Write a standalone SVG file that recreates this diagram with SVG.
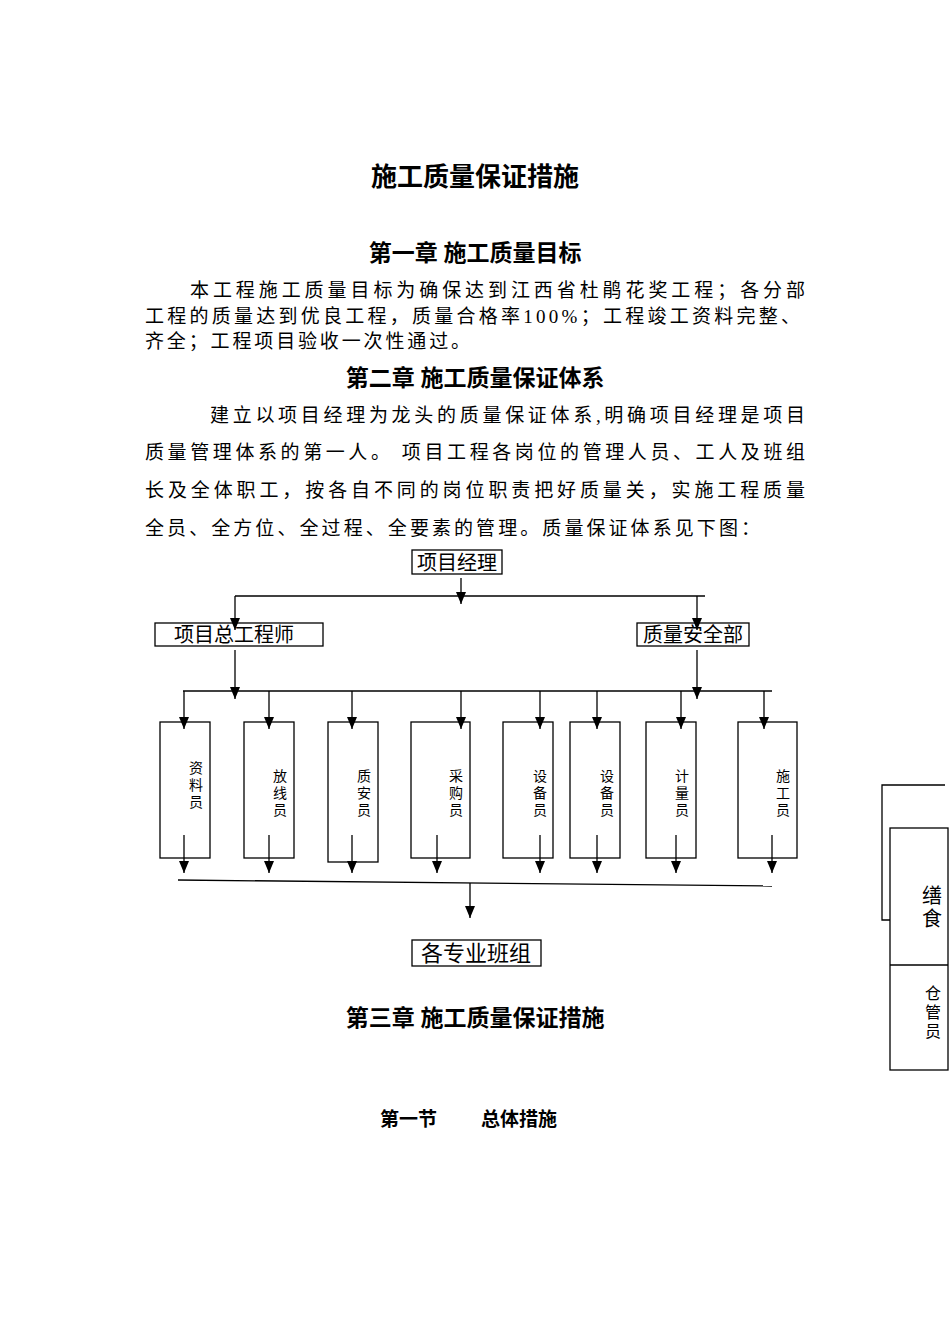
<svg xmlns="http://www.w3.org/2000/svg" width="950" height="1344" viewBox="0 0 950 1344">
<defs>
<marker id="a" markerWidth="12" markerHeight="10" refX="12" refY="5" orient="auto" markerUnits="userSpaceOnUse" viewBox="0 0 12 10"><path d="M0,0 L12,5 L0,10 z" fill="#000"/></marker>
</defs>
<style>
text{font-family:"Liberation Serif","Noto Sans CJK SC",serif;fill:#000}
.h{font-weight:bold;font-size:23px;text-anchor:middle}
.p{font-size:19px}
.b{fill:#fff;stroke:#000;stroke-width:1.3}
.l{stroke:#000;stroke-width:1.3;fill:none}
.v{font-size:14px;text-anchor:middle}
.n{font-size:20px;text-anchor:middle}
</style>
<rect width="950" height="1344" fill="#fff"/>
<text class="h" x="475" y="186" style="font-size:26px">施工质量保证措施</text>
<text class="h" x="475" y="261">第一章  施工质量目标</text>
<text class="p" x="190" y="297" textLength="615" lengthAdjust="spacing">本工程施工质量目标为确保达到江西省杜鹃花奖工程；各分部</text>
<text class="p" x="145" y="323" textLength="655" lengthAdjust="spacing">工程的质量达到优良工程，质量合格率100%；工程竣工资料完整、</text>
<text class="p" x="145" y="348" textLength="325" lengthAdjust="spacing">齐全；工程项目验收一次性通过。</text>
<text class="h" x="475" y="386">第二章 施工质量保证体系</text>
<text class="p" x="210" y="422" textLength="595" lengthAdjust="spacing">建立以项目经理为龙头的质量保证体系,明确项目经理是项目</text>
<text class="p" x="145" y="459" textLength="660" lengthAdjust="spacing">质量管理体系的第一人。 项目工程各岗位的管理人员、工人及班组</text>
<text class="p" x="145" y="497" textLength="660" lengthAdjust="spacing">长及全体职工，按各自不同的岗位职责把好质量关，实施工程质量</text>
<text class="p" x="145" y="535" textLength="615" lengthAdjust="spacing">全员、全方位、全过程、全要素的管理。质量保证体系见下图：</text>

<g id="n1"><rect class="b" x="412" y="550" width="90" height="24"/><text class="n" x="457" y="570">项目经理</text></g>
<g id="n2"><rect class="b" x="155" y="623" width="168" height="23"/><text class="n" x="234" y="642">项目总工程师</text></g>
<g id="n3"><rect class="b" x="637" y="623" width="112" height="23"/><text class="n" x="693" y="642">质量安全部</text></g>

<g id="r1"><rect class="b" x="160" y="722" width="50" height="136"/><text class="v" x="196" y="773">资</text><text class="v" x="196" y="790">料</text><text class="v" x="196" y="807">员</text></g>
<g id="r2"><rect class="b" x="244" y="722" width="50" height="136"/><text class="v" x="280" y="781">放</text><text class="v" x="280" y="798">线</text><text class="v" x="280" y="815">员</text></g>
<g id="r3"><rect class="b" x="328" y="722" width="50" height="140"/><text class="v" x="364" y="781">质</text><text class="v" x="364" y="798">安</text><text class="v" x="364" y="815">员</text></g>
<g id="r4"><rect class="b" x="411" y="722" width="59" height="136"/><text class="v" x="456" y="781">采</text><text class="v" x="456" y="798">购</text><text class="v" x="456" y="815">员</text></g>
<g id="r5"><rect class="b" x="503" y="722" width="50" height="136"/><text class="v" x="540" y="781">设</text><text class="v" x="540" y="798">备</text><text class="v" x="540" y="815">员</text></g>
<g id="r6"><rect class="b" x="570" y="722" width="50" height="136"/><text class="v" x="607" y="781">设</text><text class="v" x="607" y="798">备</text><text class="v" x="607" y="815">员</text></g>
<g id="r7"><rect class="b" x="646" y="722" width="50" height="136"/><text class="v" x="682" y="781">计</text><text class="v" x="682" y="798">量</text><text class="v" x="682" y="815">员</text></g>
<g id="r8"><rect class="b" x="738" y="722" width="59" height="136"/><text class="v" x="783" y="781">施</text><text class="v" x="783" y="798">工</text><text class="v" x="783" y="815">员</text></g>
<g id="n4"><rect class="b" x="412" y="940" width="129" height="26"/><text class="n" x="476" y="961" style="font-size:22px">各专业班组</text></g>

<g id="connectors">
<path class="l" d="M461,578 V604" marker-end="url(#a)"/>
<path class="l" d="M235,596 H705"/>
<path class="l" d="M235,596 V630" marker-end="url(#a)"/>
<path class="l" d="M697,596 V630" marker-end="url(#a)"/>
<path class="l" d="M235,650 V699" marker-end="url(#a)"/>
<path class="l" d="M697,650 V699" marker-end="url(#a)"/>
<path class="l" d="M183,691 H772"/>
<path class="l" d="M184,691 V729" marker-end="url(#a)"/>
<path class="l" d="M269,691 V729" marker-end="url(#a)"/>
<path class="l" d="M352,691 V729" marker-end="url(#a)"/>
<path class="l" d="M461,691 V729" marker-end="url(#a)"/>
<path class="l" d="M540,691 V729" marker-end="url(#a)"/>
<path class="l" d="M597,691 V729" marker-end="url(#a)"/>
<path class="l" d="M681,691 V729" marker-end="url(#a)"/>
<path class="l" d="M764,691 V729" marker-end="url(#a)"/>
<path class="l" d="M184,835 V873" marker-end="url(#a)"/>
<path class="l" d="M269,835 V873" marker-end="url(#a)"/>
<path class="l" d="M352,835 V873" marker-end="url(#a)"/>
<path class="l" d="M437,835 V873" marker-end="url(#a)"/>
<path class="l" d="M540,835 V873" marker-end="url(#a)"/>
<path class="l" d="M597,835 V873" marker-end="url(#a)"/>
<path class="l" d="M676,835 V873" marker-end="url(#a)"/>
<path class="l" d="M772,835 V873" marker-end="url(#a)"/>
<path class="l" d="M178,880 L772,886"/>
<path class="l" d="M470,883 V918" marker-end="url(#a)"/>
</g>

<text class="h" x="475" y="1026">第三章 施工质量保证措施</text>
<text x="380" y="1126" style="font-size:19px;font-weight:bold">第一节</text>
<text x="481" y="1126" style="font-size:19px;font-weight:bold">总体措施</text>

<g id="side">
<path class="l" d="M890,920 H882 V785 H945"/>
<rect class="b" x="890" y="828" width="58" height="242"/>
<line class="l" x1="890" y1="965" x2="948" y2="965"/>
<text class="n" x="932" y="903">缮</text><text class="n" x="932" y="926">食</text>
<text class="v" x="933" y="999" style="font-size:16px">仓</text><text class="v" x="933" y="1018" style="font-size:16px">管</text><text class="v" x="933" y="1037" style="font-size:16px">员</text>
</g>
</svg>
